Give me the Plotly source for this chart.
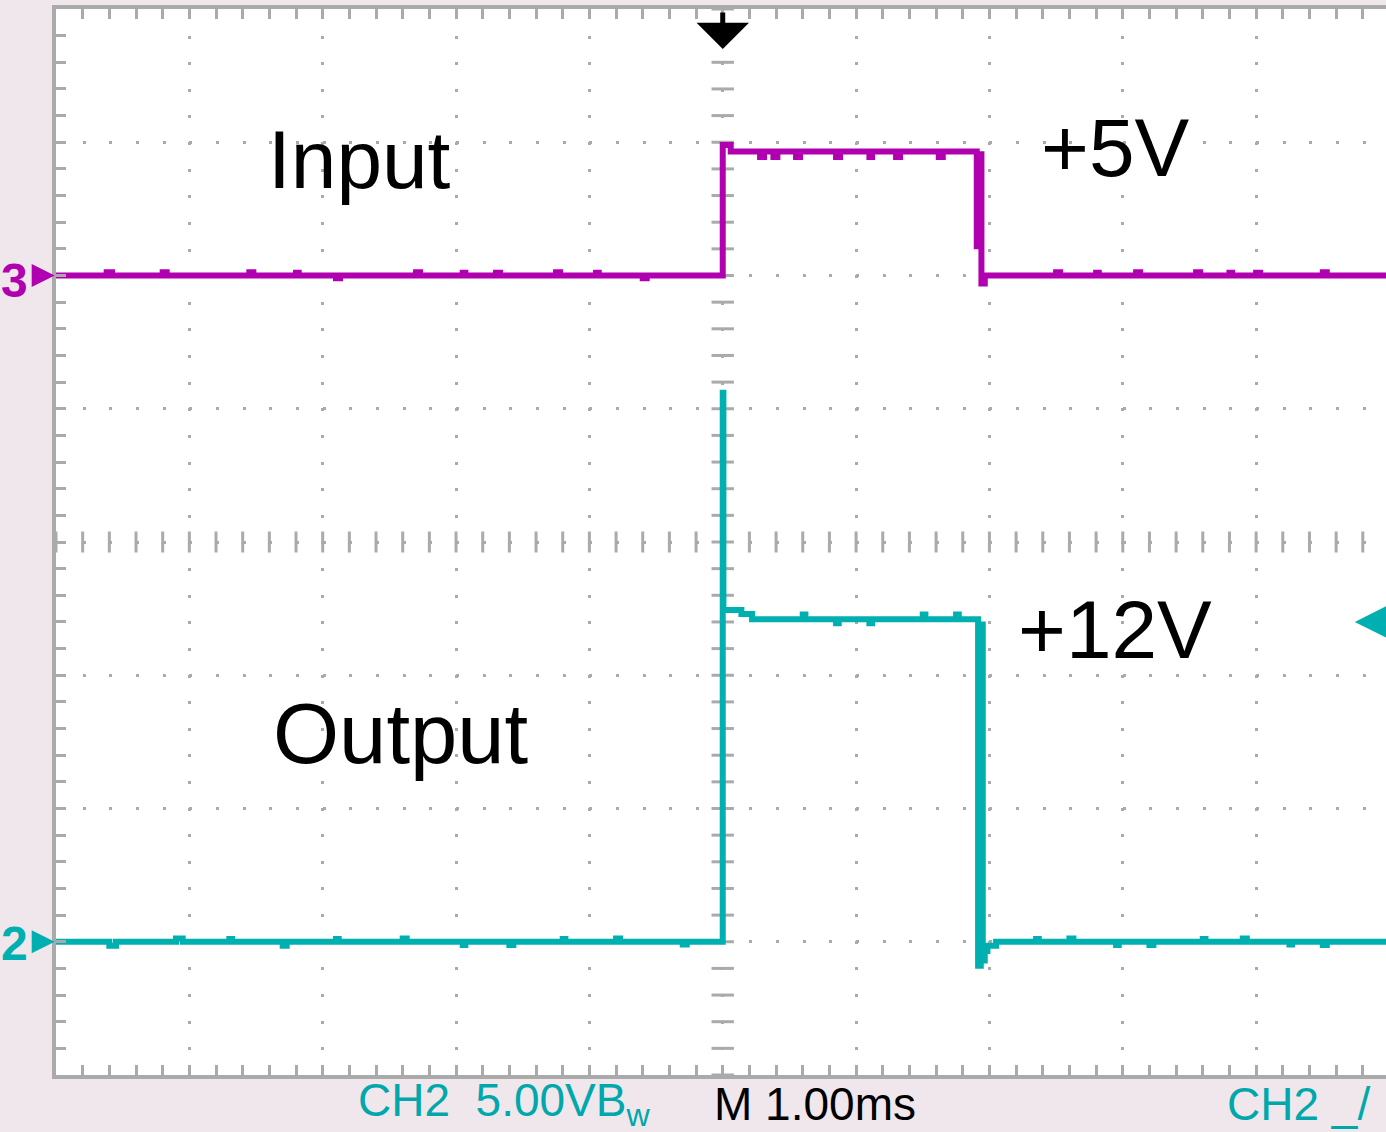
import numpy as np
import plotly.graph_objects as go

# ---------------- data (time in ms, 1.00 ms/div, trigger at 0) ----------------
t_range = [-5.0, 4.974]
div_range = [-4, 4]

# CH3 (Input) in volts, 5 V/div, ground at +2 div
ch3_t = [-5.0, -4.62, -4.58, -4.2, -4.17, -3.55, -3.52, -3.2, -3.18, -2.9, -2.87, -2.3, -2.27,
         -1.95, -1.93, -1.7, -1.67, -1.25, -1.22, -0.95, -0.93, -0.6, -0.57,
         0.0, 0.06, 0.28, 0.31, 0.38, 0.41, 0.55, 0.58, 0.85, 0.88, 1.1, 1.12, 1.3, 1.33,
         1.62, 1.65, 1.905, 1.925, 1.94, 1.965, 2.5, 2.53, 2.8, 2.82, 3.1, 3.13, 3.55, 3.58,
         3.8, 3.82, 4.0, 4.03, 4.5, 4.53, 4.974]
ch3_v = [0.0, 0.12, 0.0, 0.12, 0.0, 0.12, 0.0, 0.1, 0.0, -0.1, 0.0, 0.12, 0.0,
         0.1, 0.0, 0.1, 0.0, 0.12, 0.0, 0.1, 0.0, -0.1, 0.0,
         4.9, 4.65, 4.45, 4.65, 4.45, 4.65, 4.45, 4.65, 4.45, 4.65, 4.45, 4.65, 4.45, 4.65,
         4.45, 4.65, 1.1, 4.55, -0.3, 0.0, 0.12, 0.0, 0.1, 0.0, 0.12, 0.0, 0.12, 0.0,
         0.1, 0.0, 0.1, 0.0, 0.12, 0.0, 0.0]

# CH2 (Output) in volts, 5 V/div, ground at -3 div
ch2_t = [-5.0, -4.6, -4.55, -4.1, -4.05, -3.7, -3.68, -3.3, -3.27, -2.9, -2.88, -2.4, -2.37,
         -1.95, -1.93, -1.6, -1.57, -1.2, -1.18, -0.8, -0.77, -0.3, -0.27,
         0.0, 0.005, 0.14, 0.22, 0.6, 0.62, 0.85, 0.87, 1.1, 1.12, 1.5, 1.52, 1.75, 1.77, 1.915, 1.935,
         1.95, 1.965, 1.985, 2.05, 2.35, 2.37, 2.6, 2.63, 2.95, 2.97, 3.2, 3.23, 3.6, 3.62,
         3.9, 3.93, 4.25, 4.27, 4.5, 4.53, 4.974]
ch2_v = [0.0, -0.15, 0.0, 0.12, 0.0, 0.1, 0.0, -0.15, 0.0, 0.1, 0.0, 0.12, 0.0,
         -0.12, 0.0, -0.12, 0.0, 0.1, 0.0, 0.12, 0.0, -0.1, 0.0,
         20.6, 12.45, 12.3, 12.1, 12.28, 12.1, 11.95, 12.1, 11.95, 12.1, 12.28, 12.1, 12.28, 12.1, -0.9, 11.9,
         -0.7, -0.35, -0.15, 0.0, 0.1, 0.0, 0.12, 0.0, -0.12, 0.0, -0.12, 0.0, 0.1, 0.0,
         0.12, 0.0, -0.1, 0.0, -0.12, 0.0, 0.0]

ch3_ground_v = 0.0
ch2_ground_v = 0.0
ch2_trigger_level = 12.0

label_input = "Input"
label_output = "Output"
label_5v = "+5V"
label_12v = "+12V"
status_ch2 = "CH2  5.00VB<sub>w</sub>"
status_time = "M 1.00ms"
status_trig = "CH2 _/"

# ---------------- styles ----------------
MAGENTA = "#b000b0"
TEAL = "#00b0b0"
GRID = "#aaaaaa"
BG = "#efe7ec"

fig = go.Figure()

# centre cross-hair graticule (dashes at each minor division)
minor_y = np.arange(-4, 4.001, 0.2)
minor_x = np.arange(-5, 4.98, 0.2)
fig.add_trace(go.Scatter(x=np.zeros_like(minor_y), y=minor_y, mode="markers",
                         marker=dict(symbol="line-ew", size=16, line=dict(width=3, color=GRID)),
                         xaxis="x", yaxis="y", hoverinfo="skip", showlegend=False))
fig.add_trace(go.Scatter(x=minor_x, y=np.zeros_like(minor_x), mode="markers",
                         marker=dict(symbol="line-ns", size=15, line=dict(width=3, color=GRID)),
                         xaxis="x", yaxis="y", hoverinfo="skip", showlegend=False))

fig.add_trace(go.Scatter(x=ch3_t, y=ch3_v, mode="lines", line=dict(color=MAGENTA, width=6, shape="hv"),
                         xaxis="x", yaxis="y2", hoverinfo="skip", showlegend=False))
fig.add_trace(go.Scatter(x=ch2_t, y=ch2_v, mode="lines", line=dict(color=TEAL, width=6, shape="hv"),
                         xaxis="x", yaxis="y3", hoverinfo="skip", showlegend=False))

tick_common = dict(ticks="inside", ticklen=10, tickwidth=3, tickcolor=GRID, showticklabels=False,
                   zeroline=False)
minor_common = dict(ticks="inside", ticklen=10, tickwidth=3, tickcolor=GRID, showgrid=False)

fig.update_layout(
    width=1386, height=1132, autosize=False,
    margin=dict(l=56, r=0, t=9, b=57, pad=0),
    paper_bgcolor=BG, plot_bgcolor="white",
    xaxis=dict(range=t_range, dtick=1, tick0=0, showgrid=True, gridcolor=GRID, gridwidth=3,
               griddash="3px,23.62px", showline=True, linecolor=GRID, linewidth=4, mirror="ticks",
               minor=dict(dtick=0.2, tick0=0, **minor_common), **tick_common),
    yaxis=dict(range=div_range, dtick=1, tick0=0, showgrid=True, gridcolor=GRID, gridwidth=3,
               griddash="3px,23.67px", showline=True, linecolor=GRID, linewidth=4, mirror=False,
               minor=dict(dtick=0.2, tick0=0, **minor_common), **tick_common),
    yaxis2=dict(range=[-30, 10], overlaying="y", visible=False),
    yaxis3=dict(range=[-5, 35], overlaying="y", visible=False),
    yaxis4=dict(range=div_range, overlaying="y", side="right", dtick=1, tick0=0, showgrid=False,
                showline=False, minor=dict(dtick=0.2, tick0=0, **minor_common), **tick_common),
    showlegend=False,
)

big = dict(family="Liberation Sans, Arial, sans-serif", size=82, color="black")
status_font = "Liberation Sans Narrow, Arial Narrow, Liberation Sans, sans-serif"
ST = "#00a8ac"
ann = [
    dict(text=label_input, x=0.2284, y=0.8585, xref="paper", yref="paper", showarrow=False,
         xanchor="center", yanchor="middle", font=big),
    dict(text=label_output, x=0.2593, y=0.3205, xref="paper", yref="paper", showarrow=False,
         xanchor="center", yanchor="middle", font=dict(big, size=85)),
    dict(text=label_5v, x=0.7964, y=0.8697, xref="paper", yref="paper", showarrow=False,
         xanchor="center", yanchor="middle", font=big),
    dict(text=label_12v, x=0.7964, y=0.418, xref="paper", yref="paper", showarrow=False,
         xanchor="center", yanchor="middle", font=big),
    dict(text=status_ch2, x=0.2254, y=-0.027, xref="paper", yref="paper", showarrow=False,
         xanchor="left", yanchor="middle", font=dict(family=status_font, size=46, color=ST)),
    dict(text=status_time, x=0.4936, y=-0.027, xref="paper", yref="paper", showarrow=False,
         xanchor="left", yanchor="middle", font=dict(family=status_font, size=46, color="black")),
    dict(text=status_trig, x=0.879, y=-0.027, xref="paper", yref="paper", showarrow=False,
         xanchor="left", yanchor="middle", font=dict(family=status_font, size=46, color=ST)),
    # channel ground markers
    dict(text="<b>3</b>", x=-0.031, y=ch3_ground_v, xref="paper", yref="y2", showarrow=False,
         xanchor="center", yanchor="middle", yshift=-5,
         font=dict(family=status_font, size=48, color=MAGENTA)),
    dict(text="", x=-0.001, y=ch3_ground_v, xref="paper", yref="y2", showarrow=True, ax=-16, ay=0,
         arrowhead=2, arrowsize=1.15, arrowwidth=4, arrowcolor=MAGENTA),
    dict(text="<b>2</b>", x=-0.031, y=ch2_ground_v, xref="paper", yref="y3", showarrow=False,
         xanchor="center", yanchor="middle", yshift=-2,
         font=dict(family=status_font, size=48, color=TEAL)),
    dict(text="", x=-0.001, y=ch2_ground_v, xref="paper", yref="y3", showarrow=True, ax=-16, ay=0,
         arrowhead=2, arrowsize=1.15, arrowwidth=4, arrowcolor=TEAL),
    # trigger level marker
    dict(text="", x=0.9765, y=ch2_trigger_level, xref="paper", yref="y3", showarrow=True, ax=34, ay=0,
         arrowhead=2, arrowsize=2.0, arrowwidth=6, arrowcolor=TEAL),
    # trigger position marker
    dict(text="", x=0.0, y=0.9625, xref="x", yref="paper", showarrow=True, ax=0, ay=-38,
         arrowhead=1, arrowsize=1.75, arrowwidth=5, arrowcolor="black"),
]
fig.update_layout(annotations=ann)

fig.write_html("out.html", config={"displayModeBar": False},
               post_script="document.body.style.margin='0';document.body.style.overflow='hidden';")
